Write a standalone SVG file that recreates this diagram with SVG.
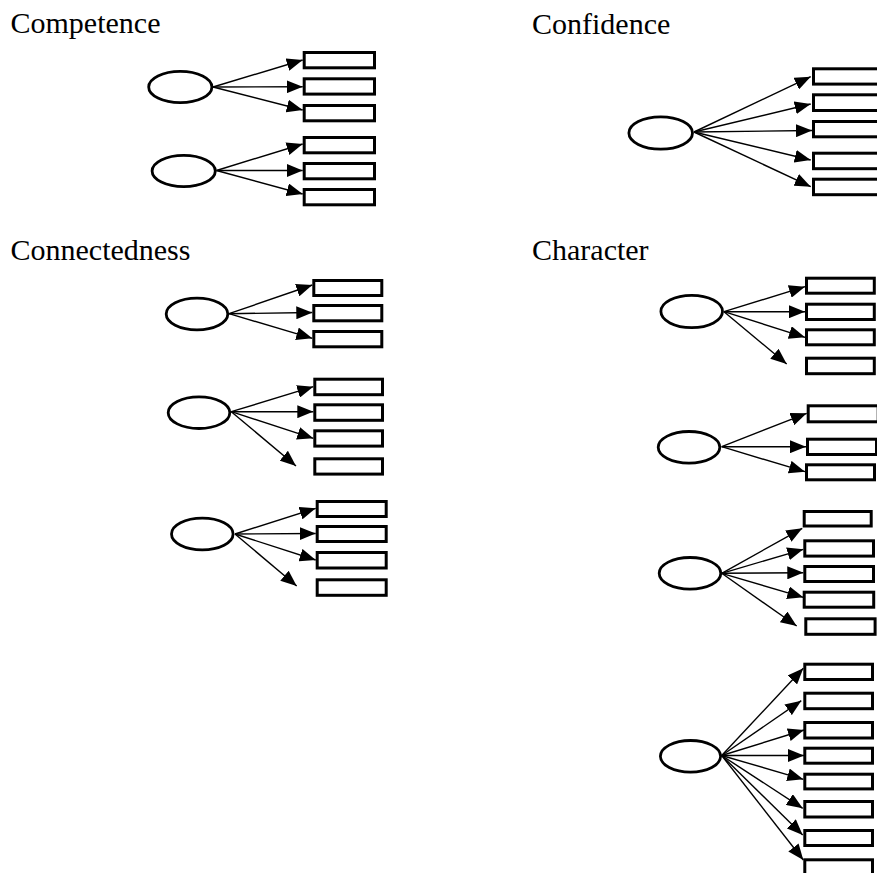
<svg xmlns="http://www.w3.org/2000/svg" width="877" height="873" viewBox="0 0 877 873">
<style>
.lbl{font-family:"Liberation Serif","Times New Roman",serif;font-size:30px;fill:#000}
.box{fill:#fff;stroke:#000;stroke-width:3}
.lat{fill:#fff;stroke:#000;stroke-width:2.8}
.arr{stroke:#000;stroke-width:1.4;fill:none;marker-end:url(#ah)}
</style>
<defs>
<marker id="ah" viewBox="0 0 16 13" refX="16" refY="6.5" markerWidth="16" markerHeight="13" markerUnits="userSpaceOnUse" orient="auto">
<path d="M0,0 L16,6.5 L0,13 z" fill="#000"/>
</marker>
</defs>
<rect width="877" height="873" fill="#fff"/>
<g id="labels">
<text class="lbl" x="10.5" y="33">Competence</text>
<text class="lbl" x="532" y="34">Confidence</text>
<text class="lbl" x="10.5" y="260">Connectedness</text>
<text class="lbl" x="532" y="260">Character</text>
</g>
<g id="connectors">
<line class="arr" x1="213" y1="87" x2="302.7" y2="60"/>
<line class="arr" x1="213" y1="87" x2="302.7" y2="86.7"/>
<line class="arr" x1="213" y1="87" x2="302.7" y2="110"/>
<line class="arr" x1="216.5" y1="170.5" x2="302.7" y2="144"/>
<line class="arr" x1="216.5" y1="170.5" x2="302.7" y2="170.5"/>
<line class="arr" x1="216.5" y1="170.5" x2="302.7" y2="194"/>
<line class="arr" x1="694" y1="132" x2="810.7" y2="76.7"/>
<line class="arr" x1="694" y1="132" x2="810.7" y2="104"/>
<line class="arr" x1="694" y1="132" x2="812" y2="130.5"/>
<line class="arr" x1="694" y1="132" x2="810.7" y2="160"/>
<line class="arr" x1="694" y1="132" x2="810.7" y2="186.7"/>
<line class="arr" x1="229" y1="313.7" x2="312.3" y2="285"/>
<line class="arr" x1="229" y1="313.7" x2="312.3" y2="312.5"/>
<line class="arr" x1="229" y1="313.7" x2="312.3" y2="338.3"/>
<line class="arr" x1="231.3" y1="411.7" x2="313.3" y2="386.7"/>
<line class="arr" x1="231.3" y1="411.7" x2="313.3" y2="411.7"/>
<line class="arr" x1="231.3" y1="411.7" x2="313.3" y2="438.3"/>
<line class="arr" x1="231.3" y1="411.7" x2="296" y2="466"/>
<line class="arr" x1="235" y1="534" x2="315.7" y2="508.3"/>
<line class="arr" x1="235" y1="534" x2="315.7" y2="533.5"/>
<line class="arr" x1="235" y1="534" x2="315.7" y2="560"/>
<line class="arr" x1="235" y1="534" x2="296.7" y2="586"/>
<line class="arr" x1="724" y1="311.7" x2="805" y2="286.7"/>
<line class="arr" x1="724" y1="311.7" x2="805" y2="311.7"/>
<line class="arr" x1="724" y1="311.7" x2="805" y2="337.3"/>
<line class="arr" x1="724" y1="311.7" x2="786.7" y2="364"/>
<line class="arr" x1="721.7" y1="446.7" x2="806.7" y2="413.3"/>
<line class="arr" x1="721.7" y1="446.7" x2="806" y2="446.7"/>
<line class="arr" x1="721.7" y1="446.7" x2="805" y2="471.7"/>
<line class="arr" x1="721.7" y1="573.3" x2="802.3" y2="528.3"/>
<line class="arr" x1="721.7" y1="573.3" x2="803.3" y2="549.3"/>
<line class="arr" x1="721.7" y1="573.3" x2="803.3" y2="572.7"/>
<line class="arr" x1="721.7" y1="573.3" x2="803.3" y2="597.3"/>
<line class="arr" x1="721.7" y1="573.3" x2="796.7" y2="626"/>
<line class="arr" x1="721.7" y1="755.5" x2="803.3" y2="668.3"/>
<line class="arr" x1="721.7" y1="755.5" x2="801.3" y2="700.7"/>
<line class="arr" x1="721.7" y1="755.5" x2="804" y2="730"/>
<line class="arr" x1="721.7" y1="755.5" x2="804" y2="755.5"/>
<line class="arr" x1="721.7" y1="755.5" x2="803.3" y2="779.3"/>
<line class="arr" x1="721.7" y1="755.5" x2="802.7" y2="808.3"/>
<line class="arr" x1="721.7" y1="755.5" x2="802.7" y2="835"/>
<line class="arr" x1="721.7" y1="755.5" x2="803.3" y2="860"/>
</g>
<g id="competence">
<g id="comp-f1">
<ellipse class="lat" cx="180.3" cy="87" rx="31.6" ry="15.6"/>
<rect class="box" x="304.2" y="52.5" width="70.3" height="15.3"/>
<rect class="box" x="304.2" y="78.8" width="70.3" height="15.3"/>
<rect class="box" x="304.2" y="105.5" width="70.3" height="15.3"/>
</g>
<g id="comp-f2">
<ellipse class="lat" cx="183.7" cy="171" rx="31.6" ry="15.6"/>
<rect class="box" x="304.2" y="137.5" width="70.3" height="15.3"/>
<rect class="box" x="304.2" y="163.5" width="70.3" height="15.3"/>
<rect class="box" x="304.2" y="189.5" width="70.3" height="15.3"/>
</g>
</g>
<g id="confidence">
<ellipse class="lat" cx="660.7" cy="133" rx="31.8" ry="16.1"/>
<rect class="box" x="813.5" y="68.8" width="71" height="15.3"/>
<rect class="box" x="813.5" y="94.8" width="71" height="15.7"/>
<rect class="box" x="813.5" y="121.5" width="71" height="15.3"/>
<rect class="box" x="813.5" y="153.2" width="71" height="15.5"/>
<rect class="box" x="813.5" y="179.2" width="71" height="15.5"/>
</g>
<g id="connectedness">
<g id="conn-f1">
<ellipse class="lat" cx="197" cy="314" rx="30.8" ry="15.8"/>
<rect class="box" x="313.8" y="280.5" width="68" height="15"/>
<rect class="box" x="313.8" y="305.5" width="68" height="15.3"/>
<rect class="box" x="313.8" y="331.5" width="68" height="15.3"/>
</g>
<g id="conn-f2">
<ellipse class="lat" cx="199" cy="412.7" rx="30.8" ry="15.8"/>
<rect class="box" x="314.8" y="379.2" width="67.7" height="15.5"/>
<rect class="box" x="314.8" y="404.8" width="67.7" height="15.5"/>
<rect class="box" x="314.8" y="430.8" width="67.7" height="15.3"/>
<rect class="box" x="314.8" y="458.8" width="67.7" height="15.3"/>
</g>
<g id="conn-f3">
<ellipse class="lat" cx="202.3" cy="534" rx="30.8" ry="15.8"/>
<rect class="box" x="317.2" y="501.5" width="69" height="15"/>
<rect class="box" x="317.2" y="526.5" width="69" height="15"/>
<rect class="box" x="317.2" y="552.5" width="69" height="15.5"/>
<rect class="box" x="317.2" y="579.8" width="69" height="15.5"/>
</g>
</g>
<g id="character">
<g id="char-f1">
<ellipse class="lat" cx="691.7" cy="311.5" rx="30.8" ry="16.1"/>
<rect class="box" x="806.5" y="278.2" width="67.8" height="15"/>
<rect class="box" x="806.5" y="304.2" width="67.8" height="15.3"/>
<rect class="box" x="806.5" y="329.8" width="67.8" height="15"/>
<rect class="box" x="806.5" y="358.2" width="67.8" height="15.5"/>
</g>
<g id="char-f2">
<ellipse class="lat" cx="689" cy="447.3" rx="30.8" ry="15.8"/>
<rect class="box" x="808.2" y="405.8" width="70" height="16"/>
<rect class="box" x="807.5" y="439.2" width="69" height="15.3"/>
<rect class="box" x="806.5" y="464.8" width="68" height="15"/>
</g>
<g id="char-f3">
<ellipse class="lat" cx="690" cy="573.3" rx="30.8" ry="15.8"/>
<rect class="box" x="804.2" y="511.5" width="67" height="14.5"/>
<rect class="box" x="804.8" y="540.8" width="68.7" height="15.3"/>
<rect class="box" x="804.8" y="566.5" width="68.7" height="15"/>
<rect class="box" x="804.2" y="592.2" width="69.5" height="15"/>
<rect class="box" x="805.8" y="618.8" width="69.3" height="15.5"/>
</g>
<g id="char-f4">
<ellipse class="lat" cx="690.5" cy="756.3" rx="30.1" ry="15.8"/>
<rect class="box" x="804.8" y="664.2" width="67.7" height="15.3"/>
<rect class="box" x="804.8" y="693.2" width="67.7" height="15.5"/>
<rect class="box" x="804.8" y="722.5" width="67.7" height="15.5"/>
<rect class="box" x="804.8" y="748.2" width="67.7" height="15"/>
<rect class="box" x="804.8" y="774.2" width="67.7" height="14.7"/>
<rect class="box" x="804.8" y="801.5" width="67.7" height="15.5"/>
<rect class="box" x="804.8" y="830.5" width="67.7" height="15"/>
<rect class="box" x="804.8" y="859.8" width="67.7" height="16"/>
</g>
</g>
</svg>
